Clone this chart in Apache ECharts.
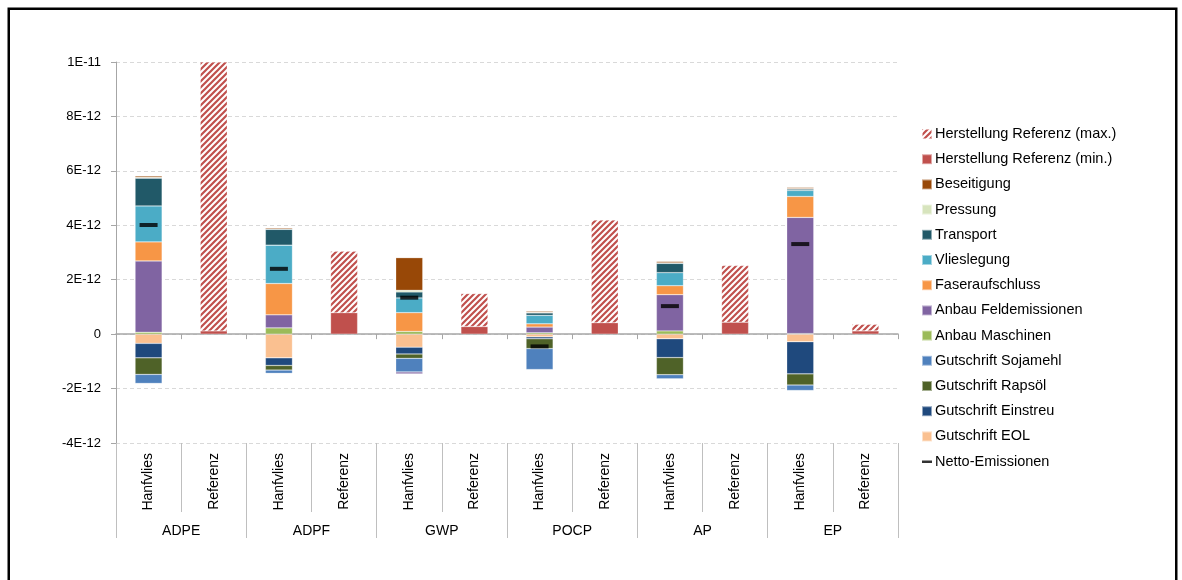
<!DOCTYPE html>
<html><head><meta charset="utf-8">
<script src="https://cdn.jsdelivr.net/npm/echarts@6/dist/echarts.min.js"></script>
<style>html,body{margin:0;padding:0;background:#fff}#c{width:1182px;height:580px}</style>
</head><body><div id="c"></div>
<script>
const groups = ['ADPE','ADPF','GWP','POCP','AP','EP'];
const variants = ['Hanfvlies','Referenz'];
const yTickLabels = ['-4E-12','-2E-12','0','2E-12','4E-12','6E-12','8E-12','1E-11'];

// Hanfvlies contributions per impact category (ADPE, ADPF, GWP, POCP, AP, EP)
const gutschriftEOL       = [-0.34e-12, -0.87e-12, -0.48e-12, -0.10e-12, -0.17e-12, -0.28e-12];
const gutschriftEinstreu  = [-0.53e-12, -0.28e-12, -0.25e-12, -0.07e-12, -0.69e-12, -1.18e-12];
const gutschriftRapsoel   = [-0.61e-12, -0.17e-12, -0.16e-12, -0.36e-12, -0.63e-12, -0.41e-12];
const gutschriftSojamehl  = [-0.33e-12, -0.12e-12, -0.50e-12, -0.77e-12, -0.15e-12, -0.20e-12];
const anbauMaschinen      = [0.07e-12, 0.23e-12, 0.10e-12, 0.05e-12, 0.12e-12, 0.02e-12];
const anbauFeldemissionen = [2.62e-12, 0.48e-12, -0.07e-12, 0.21e-12, 1.33e-12, 4.27e-12];
const faseraufschluss     = [0.70e-12, 1.15e-12, 0.69e-12, 0.12e-12, 0.33e-12, 0.77e-12];
const vlieslegung         = [1.32e-12, 1.41e-12, 0.54e-12, 0.31e-12, 0.48e-12, 0.22e-12];
const transport           = [1.02e-12, 0.58e-12, 0.22e-12, 0.09e-12, 0.34e-12, 0.05e-12];
const pressung            = [0.03e-12, 0.02e-12, 0.06e-12, 0.02e-12, 0.02e-12, 0.02e-12];
const beseitigung         = [0.05e-12, 0.04e-12, 1.20e-12, 0.04e-12, 0.05e-12, 0.04e-12];
const nettoEmissionen     = [4.01e-12, 2.40e-12, 1.34e-12, -0.45e-12, 1.03e-12, 3.31e-12];
// Referenz
const herstellungRefMin   = [0.12e-12, 0.79e-12, 0.28e-12, 0.42e-12, 0.44e-12, 0.12e-12];
const herstellungRefMaxPart = [9.88e-12, 2.26e-12, 1.21e-12, 3.77e-12, 2.08e-12, 0.24e-12];

const categories = groups.flatMap(g => variants.map(v => g + '|' + v));
const hanf = arr => groups.flatMap((g, i) => [arr[i], '-']);
const ref = arr => groups.flatMap((g, i) => ['-', arr[i]]);

function hatch() {
  const s = 6, c = document.createElement('canvas');
  c.width = s; c.height = s;
  const x = c.getContext('2d');
  x.fillStyle = '#fff'; x.fillRect(0, 0, s, s);
  x.strokeStyle = '#c0504d'; x.lineWidth = 2.2; x.beginPath();
  x.moveTo(0, s); x.lineTo(s, 0);
  x.moveTo(-s/2, s/2); x.lineTo(s/2, -s/2);
  x.moveTo(s/2, s*1.5); x.lineTo(s*1.5, s/2);
  x.stroke();
  return c;
}

const FONT = 'Liberation Sans, Arial, sans-serif';
const barDefs = [
  ['Gutschrift EOL', hanf(gutschriftEOL), '#fac090'],
  ['Gutschrift Einstreu', hanf(gutschriftEinstreu), '#1f497d'],
  ['Gutschrift Rapsöl', hanf(gutschriftRapsoel), '#4f6228'],
  ['Gutschrift Sojamehl', hanf(gutschriftSojamehl), '#4f81bd'],
  ['Anbau Maschinen', hanf(anbauMaschinen), '#9bbb59'],
  ['Anbau Feldemissionen', hanf(anbauFeldemissionen), '#8064a2'],
  ['Faseraufschluss', hanf(faseraufschluss), '#f79646'],
  ['Vlieslegung', hanf(vlieslegung), '#4bacc6'],
  ['Transport', hanf(transport), '#215968'],
  ['Pressung', hanf(pressung), '#d7e4bd'],
  ['Beseitigung', hanf(beseitigung), '#984807'],
  ['Herstellung Referenz (min.)', ref(herstellungRefMin), '#c0504d'],
  ['Herstellung Referenz (max.)', ref(herstellungRefMaxPart), {image: hatch(), repeat: 'repeat'}]
];

const series = barDefs.map(([name, data, color]) => ({
  name, type: 'bar', stack: 'total', xAxisIndex: 0, barWidth: 27,
  data, itemStyle: {color, borderColor: 'rgba(255,255,255,0.5)', borderWidth: 0.5},
  emphasis: {disabled: true}
}));
series.push({
  name: 'Netto-Emissionen', type: 'scatter', xAxisIndex: 0, data: hanf(nettoEmissionen),
  symbol: 'rect', symbolSize: [18, 4], itemStyle: {color: '#000'}, z: 10
});

const legendNames = barDefs.map(d => d[0]).reverse();
const legendData = legendNames.map(n => ({name: n, icon: 'rect'}));
legendData.push({name: 'Netto-Emissionen', icon: 'path://M0,0 L0.01,0 L0,0.01 Z M0,3.8 L10,3.8 L10,6.4 L0,6.4 Z M10,10 L9.99,10 L10,9.99 Z'});

const chart = echarts.init(document.getElementById('c'), null, {renderer: 'canvas'});
chart.setOption({
  animation: false,
  backgroundColor: '#fff',
  textStyle: {fontFamily: FONT},
  grid: {left: 116, right: 284, top: 62, bottom: 137, containLabel: false},
  legend: {
    orient: 'vertical', left: 921, top: 126, padding: 0, itemWidth: 10, itemHeight: 10, itemGap: 9.2,
    data: legendData, selectedMode: false,
    textStyle: {fontSize: 14.5, color: '#000', fontFamily: FONT, lineHeight: 16, padding: [0, 0, 0, -2]}
  },
  xAxis: [
    {type: 'category', data: categories, position: 'bottom',
     axisLine: {onZero: true, lineStyle: {color: '#a6a6a6', width: 1.5}},
     axisTick: {show: true, length: 5, interval: 0, lineStyle: {color: '#a6a6a6'}},
     axisLabel: {show: false}, splitLine: {show: false}},
    {type: 'category', data: categories, position: 'bottom', gridIndex: 0,
     axisLine: {show: false, onZero: false},
     axisTick: {show: true, length: 69, interval: 0, lineStyle: {color: '#bfbfbf'}},
     axisLabel: {show: true, interval: 0, rotate: 90, margin: 10, fontSize: 14, color: '#000', fontFamily: FONT,
                 formatter: v => v.split('|')[1]},
     splitLine: {show: false}},
    {type: 'category', data: groups, position: 'bottom', gridIndex: 0,
     axisLine: {show: false, onZero: false},
     axisTick: {show: true, length: 95, interval: 0, lineStyle: {color: '#bfbfbf'}},
     axisLabel: {show: true, interval: 0, margin: 81, fontSize: 14, color: '#000', fontFamily: FONT},
     splitLine: {show: false}}
  ],
  yAxis: {
    type: 'value', min: -4e-12, max: 1e-11, interval: 2e-12,
    axisLine: {show: true, lineStyle: {color: '#a6a6a6', width: 1}},
    axisTick: {show: true, length: 5, lineStyle: {color: '#a6a6a6'}},
    axisLabel: {fontSize: 13, color: '#000', margin: 15, fontFamily: FONT,
                formatter: v => yTickLabels[Math.round((v + 4e-12) / 2e-12)]},
    splitLine: {show: true, lineStyle: {color: '#d9d9d9', type: [4, 3], width: 1}}
  },
  series,
  graphic: [{type: 'rect', shape: {x: 8.75, y: 8.75, width: 1167.5, height: 620},
             style: {fill: 'none', stroke: '#000', lineWidth: 2.5}, silent: true, z: 100}]
});
</script></body></html>
